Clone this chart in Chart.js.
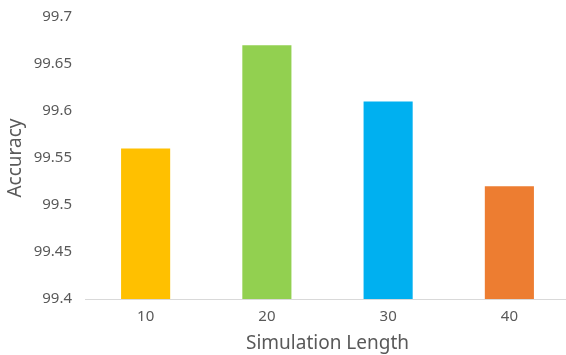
<!DOCTYPE html>
<html>
<head>
<meta charset="utf-8">
<script src="https://cdn.jsdelivr.net/npm/chart.js@4.4.1/dist/chart.umd.min.js"></script>
<style>
  html, body { margin: 0; padding: 0; background: #fff; overflow: hidden; }
  #wrap { width: 570px; height: 355px; position: relative; }
</style>
</head>
<body>
<div id="wrap"><canvas id="accChart"></canvas></div>
<script>
// simulation length vs. accuracy
const lengths = ['10', '20', '30', '40'];
const accuracy = [99.56, 99.67, 99.61, 99.52];
const barColors = ['#FFC000', '#92D050', '#00B0F0', '#ED7D31'];
const yTicks = [99.4, 99.45, 99.5, 99.55, 99.6, 99.65, 99.7];

const textGray = '#595959';
const fontFamily = '"Noto Sans", sans-serif';

new Chart(document.getElementById('accChart'), {
  type: 'bar',
  data: {
    labels: lengths,
    datasets: [{
      data: accuracy,
      backgroundColor: barColors,
      borderWidth: 0,
      categoryPercentage: 1,
      barPercentage: 0.405
    }]
  },
  options: {
    responsive: true,
    maintainAspectRatio: false,
    animation: false,
    layout: { padding: { top: 17, left: 0, right: 0, bottom: 0 } },
    plugins: {
      legend: { display: false },
      tooltip: { enabled: false }
    },
    scales: {
      x: {
        grid: { display: false, drawTicks: false },
        border: { color: '#D9D9D9', width: 1 },
        ticks: { color: textGray, padding: 9, font: { family: fontFamily, size: 15 } },
        title: {
          display: true,
          text: 'Simulation Length',
          color: textGray,
          padding: { top: 0, bottom: 0 },
          font: { family: fontFamily, size: 19 }
        },
        afterFit: (scale) => { scale.height = 56; }
      },
      y: {
        min: 99.4,
        max: 99.7,
        grid: { display: false, drawTicks: false },
        border: { display: false },
        afterBuildTicks: (scale) => { scale.ticks = yTicks.map(v => ({ value: v })); },
        ticks: {
          color: textGray,
          padding: 13,
          font: { family: fontFamily, size: 15 },
          callback: (v) => String(+v.toFixed(2))
        },
        title: {
          display: true,
          text: 'Accuracy',
          color: textGray,
          padding: { top: 4, bottom: 0 },
          font: { family: fontFamily, size: 19 }
        },
        afterFit: (scale) => {
          scale.width = 85;
          // let layout padding alone decide the plot's top edge
          scale.paddingTop = 0;
          scale.paddingBottom = 0;
        }
      }
    }
  }
});
</script>
</body>
</html>
